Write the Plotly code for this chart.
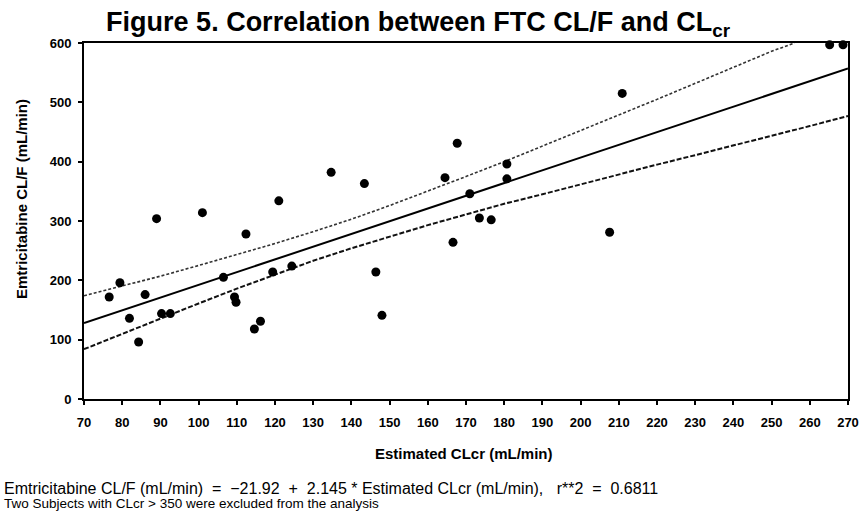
import plotly.graph_objects as go

# Observed data (Estimated CLcr, Emtricitabine CL/F)
clcr = [76.6, 79.4, 81.9, 84.3, 86.0, 89.0, 90.3, 92.6, 101.0, 106.5, 109.4, 109.8,
        112.4, 114.6, 116.2, 119.4, 121.0, 124.4, 134.7, 143.4, 146.4, 148.0,
        164.5, 166.6, 167.7, 171.0, 173.5, 176.6, 180.7, 180.7, 207.6, 210.9,
        265.2, 268.7]
clf = [172, 196, 136, 96, 176, 304, 144, 144, 314, 205, 172, 163,
       278, 118, 131, 214, 334, 224, 382, 363, 214, 141,
       373, 264, 431, 346, 305, 302, 396, 371, 281, 515,
       597, 597]

# Regression line (read at the axis ends)
fit_x = [70, 270]
fit_y = [128, 557]

# Confidence band
upper_x = [70, 80, 90, 100, 110, 120, 130, 140, 150, 160, 170, 180, 190, 200,
           210, 220, 230, 240, 250, 256]
upper_y = [174, 190, 207, 225, 243, 262, 282, 303, 326, 350, 375, 400, 426, 452,
           479, 505, 532, 559, 586, 600]
lower_x = [70, 80, 90, 100, 110, 120, 130, 140, 150, 160, 170, 180, 190, 200,
           210, 220, 230, 240, 250, 260, 270]
lower_y = [84, 110, 136, 161, 186, 210, 233, 254, 274, 293, 311, 329, 345, 362,
           378, 395, 411, 427, 443, 460, 477]

x_ticks = list(range(70, 271, 10))
y_ticks = [0, 100, 200, 300, 400, 500, 600]

FONT = "Liberation Sans, Arial, sans-serif"

fig = go.Figure()
fig.add_trace(go.Scatter(x=upper_x, y=upper_y, mode="lines",
                         line=dict(color="#333333", width=1.6, dash="3px,2px"),
                         showlegend=False, hoverinfo="skip"))
fig.add_trace(go.Scatter(x=lower_x, y=lower_y, mode="lines",
                         line=dict(color="#111111", width=2, dash="5px,2px"),
                         showlegend=False, hoverinfo="skip"))
fig.add_trace(go.Scatter(x=fit_x, y=fit_y, mode="lines",
                         line=dict(color="black", width=2),
                         showlegend=False))
fig.add_trace(go.Scatter(x=clcr, y=clf, mode="markers",
                         marker=dict(color="black", size=9),
                         showlegend=False, cliponaxis=False))

axis_common = dict(ticks="outside", ticklen=4, tickwidth=1.5, tickcolor="black",
                   showgrid=False, zeroline=False, showline=True, linewidth=2,
                   linecolor="black", mirror=True, automargin=False,
                   tickfont=dict(size=13, family=FONT, weight="bold", color="black"))

fig.update_layout(
    width=862, height=517,
    margin=dict(l=84, r=14, t=43, b=118, autoexpand=False),
    paper_bgcolor="white", plot_bgcolor="white",
    font=dict(family=FONT, color="black"),
    title=dict(text="<b>Figure 5. Correlation between FTC CL/F and CL<sub>cr</sub></b>",
               x=0.485, xanchor="center", y=0.958, yanchor="middle",
               font=dict(size=27, family=FONT, color="black")),
    xaxis=dict(range=[70, 270], tickvals=x_ticks, ticklabelstandoff=6, **axis_common),
    yaxis=dict(range=[0, 600], tickvals=y_ticks, ticklabelstandoff=4, **axis_common),
)

# Axis titles
fig.add_annotation(xref="paper", yref="paper", x=0.497, y=-0.152,
                   xanchor="center", yanchor="middle", showarrow=False,
                   text="Estimated CLcr (mL/min)",
                   font=dict(size=15, family=FONT, color="black", weight="bold"))
fig.add_annotation(xref="paper", yref="paper", x=-0.081, y=0.562,
                   xanchor="center", yanchor="middle", showarrow=False, textangle=-90,
                   text="Emtricitabine CL/F (mL/min)",
                   font=dict(size=15, family=FONT, color="black", weight="bold"))

# Footnotes
fig.add_annotation(xref="paper", yref="paper", x=-0.107, y=-0.25,
                   xanchor="left", yanchor="middle", showarrow=False,
                   text="Emtricitabine CL/F (mL/min)  =  \u221221.92  +  2.145 * Estimated CLcr (mL/min),   r**2  =  0.6811",
                   font=dict(size=16, family=FONT, color="black"))
fig.add_annotation(xref="paper", yref="paper", x=-0.107, y=-0.294,
                   xanchor="left", yanchor="middle", showarrow=False,
                   text="Two Subjects with CLcr > 350 were excluded from the analysis",
                   font=dict(size=13.5, family=FONT, color="black"))

fig.write_html("out.html", config={"displayModeBar": False},
               post_script="document.body.style.margin='0';")
